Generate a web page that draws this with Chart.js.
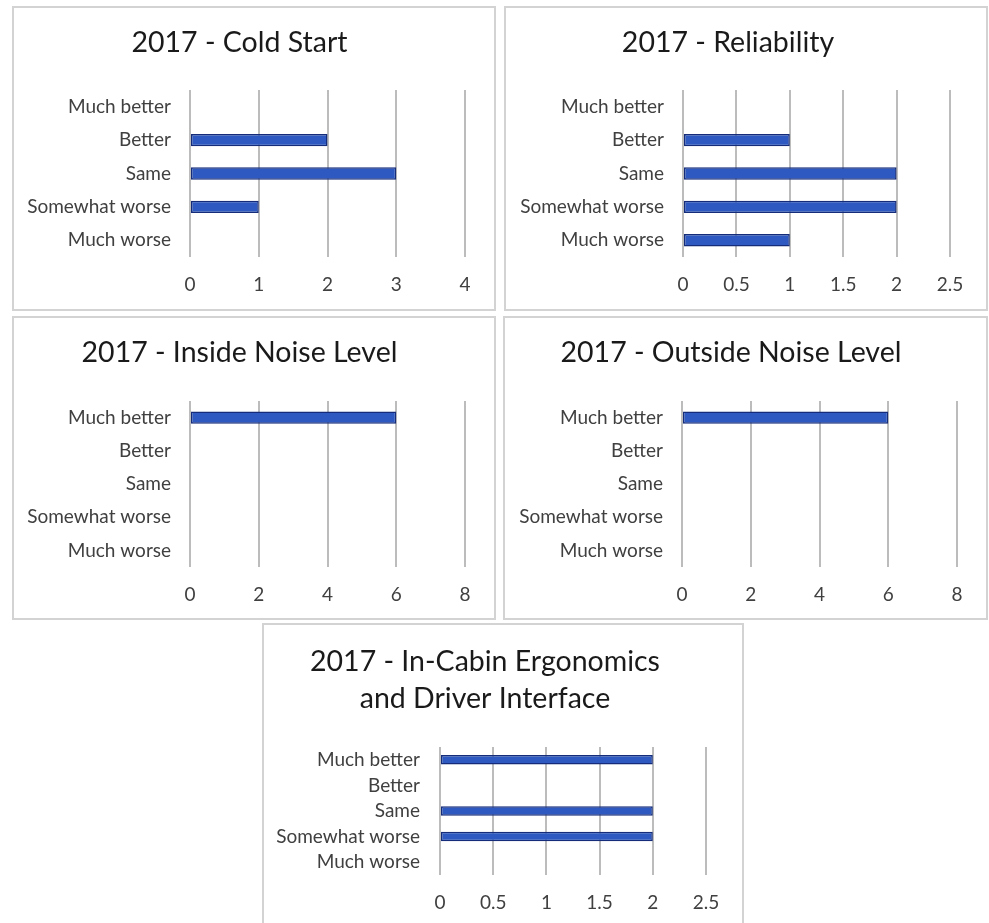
<!DOCTYPE html>
<html>
<head>
<meta charset="utf-8">
<script src="https://cdn.jsdelivr.net/npm/chart.js@4.4.1/dist/chart.umd.min.js"></script>
<style>
  html, body { margin: 0; padding: 0; background: #ffffff; overflow: hidden; }
  body { width: 989px; height: 923px; position: relative; }
  .box { position: absolute; box-sizing: border-box; border: 2px solid #d3d3d3; background: #fff; }
  .box canvas { position: absolute; left: 0; top: 0; }
</style>
</head>
<body>
<div class="box" id="b1"><canvas id="c1"></canvas></div>
<div class="box" id="b2"><canvas id="c2"></canvas></div>
<div class="box" id="b3"><canvas id="c3"></canvas></div>
<div class="box" id="b4"><canvas id="c4"></canvas></div>
<div class="box" id="b5"><canvas id="c5"></canvas></div>
<script>
// ---- data ----
const categories = ["Much better", "Better", "Same", "Somewhat worse", "Much worse"];

const coldStartTitle = ["2017 - Cold Start"];
const coldStart = [0, 2, 3, 1, 0];
const coldStartAxis = { max: 4, step: 1 };

const reliabilityTitle = ["2017 - Reliability"];
const reliability = [0, 1, 2, 2, 1];
const reliabilityAxis = { max: 2.5, step: 0.5 };

const insideNoiseTitle = ["2017 - Inside Noise Level"];
const insideNoise = [6, 0, 0, 0, 0];
const insideNoiseAxis = { max: 8, step: 2 };

const outsideNoiseTitle = ["2017 - Outside Noise Level"];
const outsideNoise = [6, 0, 0, 0, 0];
const outsideNoiseAxis = { max: 8, step: 2 };

const ergonomicsTitle = ["2017 - In-Cabin Ergonomics", "and Driver Interface"];
const ergonomics = [2, 0, 2, 2, 0];
const ergonomicsAxis = { max: 2.5, step: 0.5 };

// ---- layout (page pixels) ----
const FONT = "Lato, 'Open Sans', sans-serif";
const TITLE_SIZE = 28.5;
const LABEL_SIZE = 19;

function build(n, title, values, axis, box, plot, titleY, titleLH, tickY) {
  const b = document.getElementById('b' + n);
  b.style.left = box.x + 'px'; b.style.top = box.y + 'px';
  b.style.width = box.w + 'px'; b.style.height = box.h + 'px';
  const cx = box.x + 2, cy = box.y + 2, cw = box.w - 4, ch = box.h - 4;
  const cv = document.getElementById('c' + n);
  cv.width = cw; cv.height = ch;
  cv.style.width = cw + 'px'; cv.style.height = ch + 'px';

  const L = plot.x0 - cx;
  const R = cx + cw - plot.x1;
  const T = plot.y0 - cy;
  const B = cy + ch - plot.y1;
  const lh = TITLE_SIZE * titleLH;
  const pt = titleY - cy - lh / 2;
  const pb = T - pt - title.length * lh;
  const tickPad = tickY - plot.y1 - 11;

  new Chart(cv, {
    type: 'bar',
    data: {
      labels: categories,
      datasets: [{
        data: values,
        backgroundColor: '#2d59c0',
        borderColor: '#142c7a',
        borderWidth: 1.5,
        borderSkipped: false,
        barPercentage: 0.37,
        categoryPercentage: 1.0
      }]
    },
    options: {
      indexAxis: 'y',
      responsive: false,
      animation: false,
      devicePixelRatio: 1,
      layout: { padding: { left: 0, right: R, top: 0, bottom: 0 } },
      plugins: {
        legend: { display: false },
        tooltip: { enabled: false },
        title: {
          display: true,
          text: title,
          color: '#1a1a1a',
          font: { family: FONT, size: TITLE_SIZE, weight: 'normal', lineHeight: titleLH },
          padding: { top: pt, bottom: pb }
        }
      },
      scales: {
        x: {
          min: 0, max: axis.max,
          ticks: { stepSize: axis.step, color: '#404040', padding: tickPad,
                   callback: v => String(v),
                   font: { family: FONT, size: LABEL_SIZE } },
          grid: { color: '#bcbcbc', lineWidth: 2, drawTicks: false },
          border: { display: false },
          afterFit: s => { s.height = B; }
        },
        y: {
          ticks: { color: '#404040', padding: plot.x0 - plot.labelRight, autoSkip: false,
                   font: { family: FONT, size: LABEL_SIZE } },
          grid: { display: false, drawTicks: false },
          border: { display: false },
          afterFit: s => { s.width = L; }
        }
      }
    }
  });
}

build(1, coldStartTitle, coldStart, coldStartAxis,
  { x: 12, y: 6, w: 484, h: 305 }, { x0: 190, x1: 465, y0: 90, y1: 257, labelRight: 171 }, 43, 1.2, 284);
build(2, reliabilityTitle, reliability, reliabilityAxis,
  { x: 504, y: 6, w: 484, h: 305 }, { x0: 683, x1: 950, y0: 90, y1: 257, labelRight: 664 }, 43, 1.2, 284);
build(3, insideNoiseTitle, insideNoise, insideNoiseAxis,
  { x: 12, y: 316, w: 484, h: 304 }, { x0: 190, x1: 465, y0: 401, y1: 567, labelRight: 171 }, 353, 1.2, 594);
build(4, outsideNoiseTitle, outsideNoise, outsideNoiseAxis,
  { x: 503, y: 316, w: 485, h: 304 }, { x0: 682, x1: 957, y0: 401, y1: 567, labelRight: 663 }, 353, 1.2, 594);
build(5, ergonomicsTitle, ergonomics, ergonomicsAxis,
  { x: 262, y: 623, w: 482, h: 310 }, { x0: 440, x1: 706, y0: 747, y1: 875, labelRight: 420 }, 662, 37 / TITLE_SIZE, 902);
</script>
</body>
</html>
